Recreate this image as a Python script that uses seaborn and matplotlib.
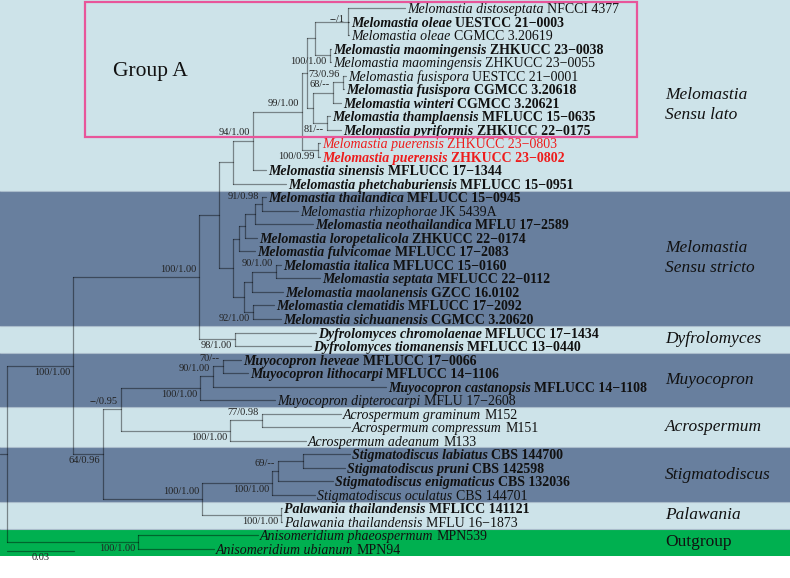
import matplotlib
matplotlib.use("Agg")
import pandas as pd
import seaborn as sns
import matplotlib.pyplot as plt
import matplotlib.transforms as mtrans
from matplotlib.patches import Rectangle

# ---- tips (top to bottom) --------------------------------------------------
tip_species = [
    "Melomastia distoseptata", "Melomastia oleae", "Melomastia oleae",
    "Melomastia maomingensis", "Melomastia maomingensis", "Melomastia fusispora",
    "Melomastia fusispora", "Melomastia winteri", "Melomastia thamplaensis",
    "Melomastia pyriformis", "Melomastia puerensis", "Melomastia puerensis",
    "Melomastia sinensis", "Melomastia phetchaburiensis", "Melomastia thailandica",
    "Melomastia rhizophorae", "Melomastia neothailandica", "Melomastia loropetalicola",
    "Melomastia fulvicomae", "Melomastia italica", "Melomastia septata",
    "Melomastia maolanensis", "Melomastia clematidis", "Melomastia sichuanensis",
    "Dyfrolomyces chromolaenae", "Dyfrolomyces tiomanensis", "Muyocopron heveae",
    "Muyocopron lithocarpi", "Muyocopron castanopsis", "Muyocopron dipterocarpi",
    "Acrospermum graminum", "Acrospermum compressum", "Acrospermum adeanum",
    "Stigmatodiscus labiatus", "Stigmatodiscus pruni", "Stigmatodiscus enigmaticus",
    "Stigmatodiscus oculatus", "Palawania thailandensis", "Palawania thailandensis",
    "Anisomeridium phaeospermum", "Anisomeridium ubianum",
]
tip_strain = [
    "NFCCI 4377", "UESTCC 21\u22120003", "CGMCC 3.20619", "ZHKUCC 23\u22120038",
    "ZHKUCC 23\u22120055", "UESTCC 21\u22120001", "CGMCC 3.20618", "CGMCC 3.20621",
    "MFLUCC 15\u22120635", "ZHKUCC 22\u22120175", "ZHKUCC 23\u22120803", "ZHKUCC 23\u22120802",
    "MFLUCC 17\u22121344", "MFLUCC 15\u22120951", "MFLUCC 15\u22120945", "JK 5439A",
    "MFLU 17\u22122589", "ZHKUCC 22\u22120174", "MFLUCC 17\u22122083", "MFLUCC 15\u22120160",
    "MFLUCC 22\u22120112", "GZCC 16.0102", "MFLUCC 17\u22122092", "CGMCC 3.20620",
    "MFLUCC 17\u22121434", "MFLUCC 13\u22120440", "MFLUCC 17\u22120066", "MFLUCC 14\u22121106",
    "MFLUCC 14\u22121108", "MFLU 17\u22122608", "M152", "M151", "M133",
    "CBS 144700", "CBS 142598", "CBS 132036", "CBS 144701", "MFLICC 141121",
    "MFLU 16\u22121873", "MPN539", "MPN94",
]
tip_bold = [0, 1, 0, 1, 0, 0, 1, 1, 1, 1, 0, 1, 1, 1, 1, 0, 1, 1, 1, 1, 1,
            1, 1, 1, 1, 1, 1, 1, 1, 0, 0, 0, 0, 1, 1, 1, 0, 1, 0, 0, 0]
red_tips = [10, 11]
# distance from root (substitutions / site)
tip_depth = [
    0.1782, 0.1532, 0.1532, 0.1451, 0.1451, 0.1518, 0.1509, 0.1496, 0.1446, 0.1496,
    0.1402, 0.1402, 0.1160, 0.1249, 0.1160, 0.1303, 0.1370, 0.1120, 0.1111, 0.1227,
    0.1402, 0.1236, 0.1196, 0.1227, 0.1384, 0.1361, 0.1048, 0.1079, 0.1697, 0.1200,
    0.1496, 0.1536, 0.1339, 0.1536, 0.1514, 0.1460, 0.1379, 0.1232, 0.1232, 0.1124,
    0.0927,
]

# ---- internal nodes ---------------------------------------------------------
node_children = {
    "ole": [0, 1, 2], "mao": [3, 4], "a": ["ole", "mao"], "fus": [5, 6],
    "fw": ["fus", 7], "tp": [8, 9], "b": ["fw", "tp"], "A": ["a", "b"],
    "pue": [10, 11], "Ap": ["A", "pue"], "s": ["Ap", 12], "lato": ["s", 13],
    "thr": [14, 15], "thrn": ["thr", 16], "l": ["thrn", 17], "f": ["l", 18],
    "is": [19, 20], "ism": ["is", 21], "cs": [22, 23], "im": ["ism", "cs"],
    "stricto": ["f", "im"], "mel": ["lato", "stricto"], "dyf": [24, 25],
    "md": ["mel", "dyf"], "hl": [26, 27], "hlc": ["hl", 28], "muy": ["hlc", 29],
    "gc": [30, 31], "acr": ["gc", 32], "ma": ["muy", "acr"], "lp": [33, 34],
    "lpe": ["lp", 35], "stig": ["lpe", 36], "pal": [37, 38], "sp": ["stig", "pal"],
    "x": ["ma", "sp"], "inn": ["md", "x"], "out": [39, 40], "root": ["inn", "out"],
}
node_depth = {
    "ole": 0.1527, "mao": 0.1446, "a": 0.1379, "fus": 0.1505, "fw": 0.1460,
    "tp": 0.1433, "b": 0.1370, "A": 0.1343, "pue": 0.1393, "Ap": 0.1321,
    "s": 0.1102, "lato": 0.1012, "thr": 0.1142, "thrn": 0.1111, "l": 0.1066,
    "f": 0.1039, "is": 0.1205, "ism": 0.1097, "cs": 0.1102, "im": 0.1061,
    "stricto": 0.1012, "mel": 0.0949, "dyf": 0.1021, "md": 0.0860, "hl": 0.0967,
    "hlc": 0.0923, "muy": 0.0864, "gc": 0.1142, "acr": 0.0999, "ma": 0.0511,
    "lp": 0.1326, "lpe": 0.1214, "stig": 0.1187, "pal": 0.1227, "sp": 0.0873,
    "x": 0.0430, "inn": 0.0296, "out": 0.0587, "root": 0.0,
}
node_support = {
    "ole": "--/1", "mao": "100/1.00", "fus": "73/0.96", "fw": "68/--", "tp": "81/--",
    "Ap": "99/1.00", "pue": "100/0.99", "s": "94/1.00", "thr": "91/0.98",
    "is": "90/1.00", "cs": "92/1.00", "md": "100/1.00", "dyf": "98/1.00",
    "hl": "70/--", "hlc": "90/1.00", "muy": "100/1.00", "gc": "77/0.98",
    "acr": "100/1.00", "ma": "--/0.95", "x": "64/0.96", "inn": "100/1.00",
    "lpe": "69/--", "stig": "100/1.00", "sp": "100/1.00", "pal": "100/1.00",
    "out": "100/1.00",
}
support_below = ["mao", "tp", "pue", "cs", "dyf", "muy", "acr", "x", "inn",
                 "stig", "pal", "out"]

# ---- clades (right-hand bands) ---------------------------------------------
clade_names = ["Melomastia\nSensu lato", "Melomastia\nSensu stricto", "Dyfrolomyces",
               "Muyocopron", "Acrospermum", "Stigmatodiscus", "Palawania", "Outgroup"]
clade_first = [0, 14, 24, 26, 30, 33, 37, 39]
clade_last = [13, 23, 25, 29, 32, 36, 38, 40]
band_colors = ["#cde3e9", "#687f9e", "#cde3e9", "#687f9e", "#cde3e9", "#687f9e",
               "#cde3e9", "#00b050"]
scale_len = 0.03

sns.set_theme(style="white")
plt.rcParams["font.family"] = ["Liberation Serif", "DejaVu Serif"]

# ---- layout: node y = mean of first/last child ------------------------------
node_y = {}
def get_y(n):
    if isinstance(n, int):
        return float(n)
    if n not in node_y:
        ch = node_children[n]
        node_y[n] = (get_y(ch[0]) + get_y(ch[-1])) / 2
    return node_y[n]

def get_d(n):
    return tip_depth[n] if isinstance(n, int) else node_depth[n]

segs = []
for n, ch in node_children.items():
    d = node_depth[n]
    segs.append([(d, get_y(ch[0])), (d, get_y(ch[-1]))])
    for c in ch:
        segs.append([(d, get_y(c)), (get_d(c), get_y(c))])
segs.append([(-0.0032, get_y("root")), (0.0, get_y("root"))])
rows = []
for k, s in enumerate(segs):
    for (x, y) in s:
        rows.append({"seg": k, "x": x, "y": y})
seg_df = pd.DataFrame(rows)

fig = plt.figure(figsize=(7.9, 5.78), dpi=100)
ax = fig.add_axes([0, 0, 1, 1])

x0, x1 = -0.00313, 0.35065
y_top, y_bot = -0.59, 42.15

for name, a, b, col in zip(clade_names, clade_first, clade_last, band_colors):
    top = y_top if a == 0 else a - 0.5
    ax.axhspan(top, b + 0.5, color=col, lw=0, zorder=0)
    if a > 0:
        ax.axhline(a - 0.5, color="#aabccb", lw=0.8, zorder=0.5)

sns.lineplot(data=seg_df, x="x", y="y", units="seg", estimator=None, sort=False,
             color="black", alpha=0.42, lw=0.9, ax=ax, legend=False)

renderer = fig.canvas.get_renderer()
gap = 0.25 * 10 * 100 / 72
for i, (sp, st) in enumerate(zip(tip_species, tip_strain)):
    w = "bold" if tip_bold[i] else "normal"
    col = "#ee1c1c" if i in red_tips else "#111111"
    tr = mtrans.offset_copy(ax.transData, fig=fig, x=2, y=0, units="dots")
    t1 = ax.text(tip_depth[i], i, sp, transform=tr, fontsize=10, style="italic",
                 weight=w, color=col, va="center_baseline", ha="left")
    wd = t1.get_window_extent(renderer).width
    tr2 = mtrans.offset_copy(ax.transData, fig=fig, x=2 + wd + gap, y=0, units="dots")
    ax.text(tip_depth[i], i, st, transform=tr2, fontsize=10, weight=w, color=col,
            va="center_baseline", ha="left")

for n, lab in node_support.items():
    below = n in support_below
    dy = -6.5 if below else 8.0
    if n == "ole":
        dy = 2.5
    tr = mtrans.offset_copy(ax.transData, fig=fig, x=-3, y=dy, units="dots")
    ax.text(node_depth[n], get_y(n), lab, transform=tr, fontsize=7.5,
            color="#222222", ha="right", va="center")

for name, a, b in zip(clade_names, clade_first, clade_last):
    yc = (a + b) / 2 + (0.7 if a == 0 else 0.0)
    st = "normal" if name == "Outgroup" else "italic"
    ax.text(0.2947, yc, name, fontsize=12.5, style=st, color="#111111",
            ha="left", va="center", linespacing=1.35)

# Group A box
ax.add_patch(Rectangle((0.0349, -0.44), 0.2472, 9.97, fill=False,
                       edgecolor="#e8559a", lw=1.6, zorder=3))
ax.text(0.0475, 4.73, "Group A", fontsize=15.5, color="#111111", ha="left", va="center")

# scale bar
ax.plot([0, scale_len], [40.15, 40.15], color="black", alpha=0.42, lw=0.9)
ax.text(scale_len / 2, 40.6, f"{scale_len:.2f}", fontsize=7.5, color="#222222",
        ha="center", va="center")

ax.set_xlim(x0, x1)
ax.set_ylim(y_bot, y_top)
ax.axis("off")
fig.savefig("out.png", dpi=100, facecolor="white")
